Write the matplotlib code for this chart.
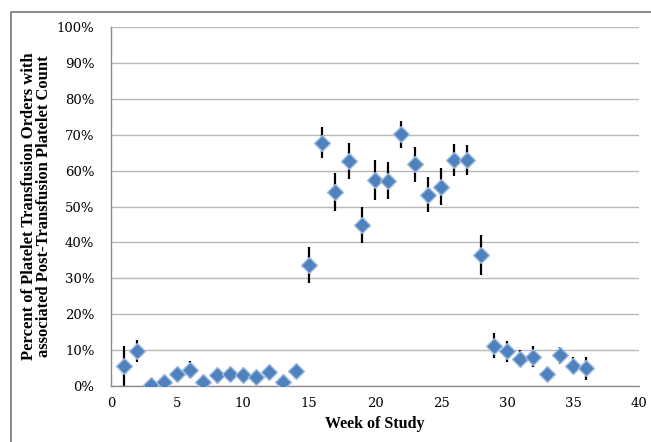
"""weekly share of platelet transfusion orders with a post-transfusion count"""
import matplotlib
matplotlib.use("Agg")
import matplotlib.pyplot as plt
from matplotlib.lines import Line2D
from matplotlib.ticker import PercentFormatter
import numpy as np

weeks = np.arange(1, 37)
percent = [5.6, 9.7, 0.3, 1.2, 3.3, 4.5, 1.2, 3.0, 3.3, 3.0, 2.4, 4.0,
           1.2, 4.2, 33.6, 67.8, 54.0, 62.6, 44.8, 57.3, 57.2, 70.1,
           61.8, 53.3, 55.5, 63.0, 63.0, 36.6, 11.2, 9.7, 7.6, 8.2,
           3.4, 8.5, 5.7, 4.9]
err = [5.5, 3.0, 0.8, 0.8, 1.0, 2.4, 0.8, 1.0, 1.0, 1.0, 1.0, 1.0,
       0.8, 1.0, 5.0, 4.4, 5.3, 5.0, 5.1, 5.6, 5.2, 3.8,
       4.9, 4.9, 5.1, 4.5, 4.2, 5.6, 3.5, 2.9, 2.4, 2.9,
       0.5, 2.5, 2.3, 3.2]

xlabel = "Week of Study"
ylabel = "Percent of Platelet Transfusion Orders with\nassociated Post-Transfusion Platelet Count"

plt.rcParams["font.family"] = "DejaVu Serif"

fig = plt.figure(figsize=(6.51, 4.42), dpi=100)
ax = fig.add_axes([0.1705, 0.1267, 0.8111, 0.8122])

# outer frame: only the top and left edges show in the crop
frame_x = [11 / 651, 11 / 651, 1.0]
frame_y = [0.0, 1 - 12 / 442, 1 - 12 / 442]
fig.lines.append(Line2D(frame_x, frame_y, transform=fig.transFigure,
                        color="#808080", linewidth=1.3))

ax.errorbar(weeks, percent, yerr=err, fmt="none", ecolor="black",
            elinewidth=1.6, capsize=0, zorder=2)
ax.plot(weeks, percent, linestyle="none", marker="D", markersize=8.5,
        markerfacecolor="#4F81BD", markeredgecolor="#9DBBE0",
        markeredgewidth=1.0, zorder=3)

ax.set_xlim(0, 40)
ax.set_ylim(0, 100)
ax.set_xticks(range(0, 41, 5))
ax.set_yticks(range(0, 101, 10))
ax.yaxis.set_major_formatter(PercentFormatter(decimals=0))
ax.grid(axis="y", color="#b8b8b8", linewidth=1.0)
ax.set_axisbelow(True)

for side in ("top", "right"):
    ax.spines[side].set_visible(False)
for side in ("left", "bottom"):
    ax.spines[side].set_color("#8c8c8c")
    ax.spines[side].set_linewidth(1.0)
ax.tick_params(axis="y", length=0, pad=12, labelsize=9.5)
ax.tick_params(axis="x", length=0, pad=8, labelsize=9.5)

ax.set_xlabel(xlabel, family="Liberation Serif", fontweight="bold",
              fontsize=11.5, labelpad=4)
ax.set_ylabel(ylabel, family="Liberation Serif", fontweight="bold",
              fontsize=12, labelpad=3, linespacing=0.95)

fig.savefig("out.png", dpi=100)
